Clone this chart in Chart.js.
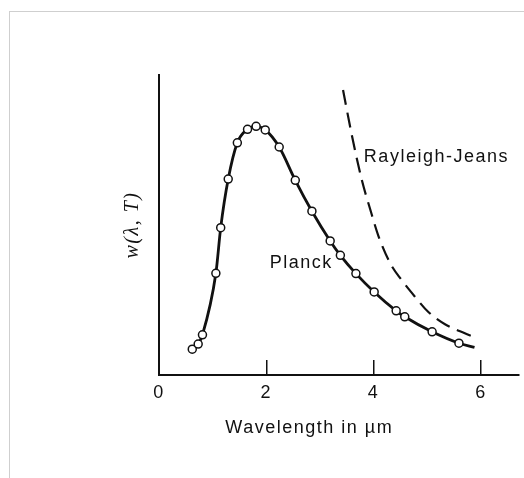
<!DOCTYPE html>
<html>
<head>
<meta charset="utf-8">
<script src="https://cdn.jsdelivr.net/npm/chart.js@4"></script>
<style>
    html, body { margin: 0; padding: 0; background: #fff; }
    #wrap { position: relative; width: 524px; height: 478px; overflow: hidden; }
    #frame { position: absolute; left: 9px; top: 11px; right: -2px; bottom: -2px;
             border-left: 1px solid #cfcfcf; border-top: 1px solid #cfcfcf; }
    #chart { position: absolute; left: 0; top: 0; }
</style>
</head>
<body>
<div id="wrap">
    <div id="frame"></div>
    <canvas id="chart" width="524" height="478"></canvas>
</div>
<script>
// Planck curve (wavelength in um, relative w)
const planckX = [0.62, 0.73, 0.81, 1.06, 1.15, 1.29, 1.46, 1.65, 1.81, 1.98, 2.24, 2.54, 2.85, 3.19, 3.38, 3.67, 4.01, 4.42, 4.58, 5.09, 5.59, 5.88];
const planckY = [8.6, 10.3, 13.4, 33.9, 49.1, 65.3, 77.4, 81.9, 82.9, 81.7, 76.0, 64.9, 54.6, 44.7, 39.9, 33.8, 27.7, 21.4, 19.4, 14.4, 10.6, 9.2];
const planckMarked = [1, 1, 1, 1, 1, 1, 1, 1, 1, 1, 1, 1, 1, 1, 1, 1, 1, 1, 1, 1, 1, 0]; // last point is only the line end

// Rayleigh-Jeans dashed curve
const rjX = [3.43, 3.60, 3.78, 3.94, 4.09, 4.31, 4.52, 4.77, 5.02, 5.33, 5.70, 5.85];
const rjY = [95.0, 79.4, 65.0, 55.0, 46.3, 37.2, 31.7, 26.1, 21.0, 16.9, 13.9, 12.8];

const xTicks = [0, 2, 4, 6];
const xTitle = 'Wavelength in \u00b5m';
const yTitle = 'w(\u03bb, T)';

// curve labels, placed in data units
const curveLabels = [
    { text: 'Planck', x: 2.65, y: 37.3 },
    { text: 'Rayleigh-Jeans', x: 5.17, y: 72.7 }
];
const xTitlePos = { x: 2.8 };

const SANS = '"Liberation Sans", Arial, sans-serif';

const textPlugin = {
    id: 'textPlugin',
    beforeDraw(chart) {
        chart.ctx.letterSpacing = '1.5px';
    },
    afterDraw(chart) {
        const ctx = chart.ctx;
        const xs = chart.scales.x;
        const ys = chart.scales.y;
        ctx.save();
        ctx.letterSpacing = '1.5px';
        ctx.fillStyle = '#111';
        ctx.font = '18px ' + SANS;
        ctx.textAlign = 'center';
        ctx.textBaseline = 'middle';
        curveLabels.forEach(l => {
            ctx.fillText(l.text, xs.getPixelForValue(l.x), ys.getPixelForValue(l.y));
        });
        ctx.fillText(xTitle, xs.getPixelForValue(xTitlePos.x), xs.bottom - 50);
        ctx.restore();
    }
};

const pts = (xs, ys) => xs.map((x, i) => ({ x: x, y: ys[i] }));

new Chart(document.getElementById('chart'), {
    type: 'line',
    data: {
        datasets: [
            {
                label: 'Planck',
                data: pts(planckX, planckY),
                borderColor: '#111',
                borderWidth: 2.8,
                cubicInterpolationMode: 'monotone',
                pointRadius: planckMarked.map(m => m ? 4 : 0),
                pointBackgroundColor: '#fff',
                pointBorderColor: '#111',
                pointBorderWidth: 1.5,
                fill: false,
                order: 0
            },
            {
                label: 'Rayleigh-Jeans',
                data: pts(rjX, rjY),
                borderColor: '#111',
                borderWidth: 2.2,
                borderDash: [15, 8],
                cubicInterpolationMode: 'monotone',
                pointRadius: 0,
                fill: false,
                order: 1
            }
        ]
    },
    options: {
        responsive: false,
        animation: false,
        layout: { padding: { left: 0, top: 75, right: 3, bottom: 0 } },
        plugins: {
            legend: { display: false },
            tooltip: { enabled: false }
        },
        scales: {
            x: {
                type: 'linear',
                min: 0,
                max: 6.7,
                afterFit: s => { s.height = 103; },
                afterBuildTicks: s => { s.ticks = xTicks.map(v => ({ value: v })); },
                ticks: {
                    color: '#111',
                    font: { family: SANS, size: 18 },
                    padding: 22,
                    maxRotation: 0,
                    includeBounds: false
                },
                grid: {
                    drawOnChartArea: false,
                    drawTicks: true,
                    tickLength: -15,
                    color: '#111',
                    lineWidth: 1.5
                },
                border: { display: true, color: '#111', width: 2 }
            },
            y: {
                type: 'linear',
                min: 0,
                max: 100,
                afterFit: s => { s.width = 159; },
                ticks: { display: false },
                grid: { display: false },
                border: { display: true, color: '#111', width: 2 },
                title: {
                    display: true,
                    text: yTitle,
                    color: '#111',
                    font: { family: '"Liberation Serif", "Times New Roman", serif', size: 20, style: 'italic' },
                    padding: { top: 121, bottom: 0 }
                }
            }
        }
    },
    plugins: [textPlugin]
});
</script>
</body>
</html>
